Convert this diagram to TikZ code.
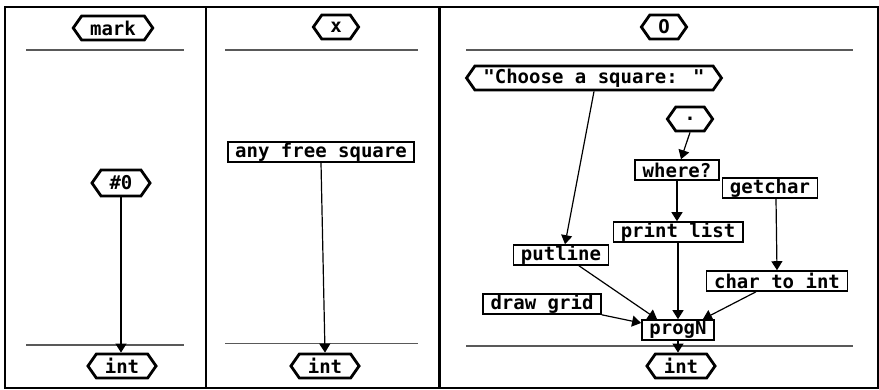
\documentclass[tikz,border=0pt]{standalone}
\usepackage{fontspec}
\newfontfamily\pix{DejaVu Sans Mono}
\usetikzlibrary{shapes.symbols,arrows.meta,calc}
\begin{document}
\begin{tikzpicture}[x=1pt,y=-1pt,
  every node/.style={font=\pix\bfseries\fontsize{19}{20}\selectfont},
  hexbox/.style={shape=signal, signal to=west and east, signal pointer angle=110,
    draw, line width=2.8pt, inner xsep=8.5pt, inner ysep=0pt, minimum height=24pt},
  recbox/.style={draw, line width=1.6pt, inner xsep=7.5pt, inner ysep=0pt, minimum height=20pt},
  conn/.style={line width=1.2pt, -{Triangle[length=9pt,width=11pt]}},
  sep/.style={line width=1.8pt, black!65},
  frame/.style={line width=2pt}]
\useasboundingbox (0,0) rectangle (879,389);
% frame and dividers
\draw[frame] (5,7) rectangle (878,388);
\draw[frame] (206,7) -- (206,388);
\draw[line width=2.6pt] (439.5,7) -- (439.5,388);
% separators
\draw[sep] (26,50.3) -- (184,50.3);
\draw[sep] (26,345) -- (184,345);
\draw[sep] (225,50.3) -- (418,50.3);
\draw[sep] (225,343.5) -- (418,343.5);
\draw[sep] (466,50.3) -- (853,50.3);
\draw[sep] (466,346) -- (853,346);
% panel 1
\node[hexbox] (mark) at (113,28) {mark};
\node[hexbox, minimum height=26pt] (n0) at (121,183) {\#0};
\node[hexbox] (int1) at (122,366) {int};
% panel 2
\node[hexbox] (xx) at (336,27) {x};
\node[recbox] (any) at (321,152) {any free square};
\node[hexbox] (int2) at (325,366) {int};
% panel 3
\node[hexbox] (oo) at (664,27) {O};
\node[hexbox] (choose) at (594,78) {"Choose a square: "};
\node[hexbox] (dot) at (690,119) {.};
\node[recbox] (where) at (677,170) {where?};
\node[recbox] (getchar) at (770,188) {getchar};
\node[recbox] (plist) at (678,232) {print list};
\node[recbox] (putline) at (561,255) {putline};
\node[recbox] (ctoi) at (777,281) {char to int};
\node[recbox] (dgrid) at (542,304) {draw grid};
\node[recbox] (progn) at (678,330) {progN};
\node[hexbox] (int3) at (681,366) {int};
% connectors
\draw[conn] (n0.south) -- (n0.south |- int1.north);
\draw[conn] (any.south) -- (int2.north);
\draw[conn] (choose.south) -- ($(putline.north)+(4,0)$);
\draw[conn] (dot.south) -- ($(where.north)+(4,0)$);
\draw[conn] (where.south) -- (where.south |- plist.north);
\draw[conn] ($(getchar.south)+(6,0)$) -- (ctoi.north);
\draw[conn] ($(putline.south)+(18,0)$) -- ($(progn.north west)+(16,0)$);
\draw[conn] (plist.south) -- (plist.south |- progn.north);
\draw[conn] ($(ctoi.south)+(-21,0)$) -- ($(progn.north east)+(-12,0)$);
\draw[conn] (dgrid.south east) -- ($(progn.west)+(0,-7)$);
\draw[conn] (progn.south) -- (progn.south |- int3.north);
\end{tikzpicture}
\end{document}
